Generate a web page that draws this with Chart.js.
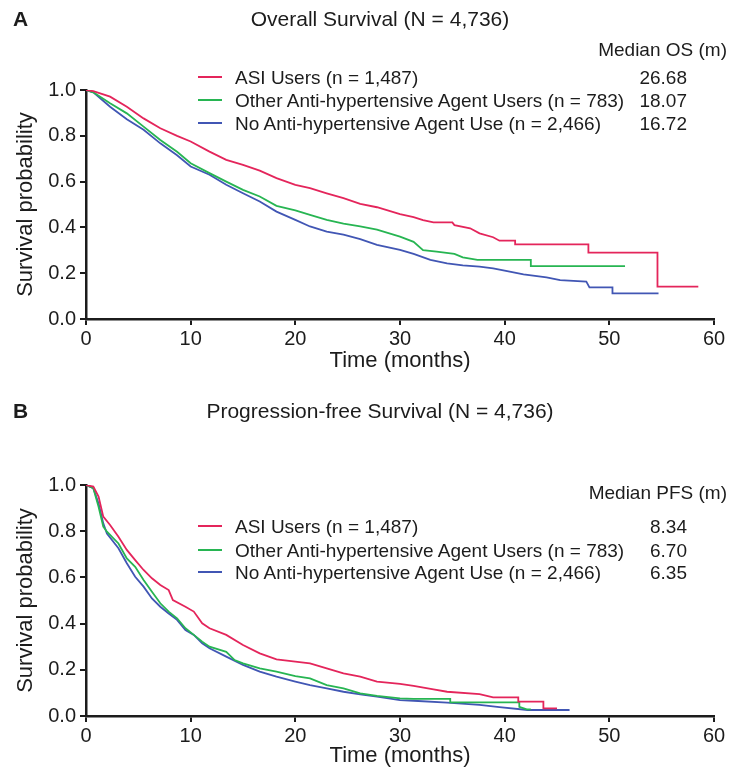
<!DOCTYPE html>
<html>
<head>
<meta charset="utf-8">
<script src="https://cdn.jsdelivr.net/npm/chart.js@4.4.1/dist/chart.umd.min.js"></script>
<style>
  body { margin: 0; background: #fff; }
  #page { position: relative; width: 733px; height: 775px; font-family: 'Liberation Sans', Arial, sans-serif; color: #1c1c1c; }
  canvas { position: absolute; left: 0; }
  .lbl { position: absolute; white-space: nowrap; line-height: 1; transform: translateY(-50%); }
  .key { position: absolute; height: 2px; width: 24px; left: 198px; }
</style>
</head>
<body>
<div id="page">
  <canvas id="osChart" width="733" height="385" style="top:0"></canvas>
  <canvas id="pfsChart" width="733" height="390" style="top:385px"></canvas>
</div>
<script>
// groups
const groupLabels = ['ASI Users (n = 1,487)', 'Other Anti-hypertensive Agent Users (n = 783)', 'No Anti-hypertensive Agent Use (n = 2,466)'];
const groupColors = ['#e4255b', '#27b552', '#4156b4'];
const osMedians = ['26.68', '18.07', '16.72'];
const pfsMedians = ['8.34', '6.70', '6.35'];

const xTicks = [0, 10, 20, 30, 40, 50, 60];
const yTicks = [0, 0.2, 0.4, 0.6, 0.8, 1.0];

// overall survival
const osTimeAsi = [0, 0.7, 2.3, 3.9, 5.5, 7.1, 8.7, 10, 11.8, 13.4, 15, 16.6, 18.2, 20, 21.4, 23, 24.6, 26.2, 27.8, 30, 31.3, 32.2, 33.2, 35.0, 35.2, 36.7, 37.6, 38.9, 39.5, 41.0, 41.0, 48.0, 48.0, 54.6, 54.6, 58.5];
const osSurvAsi = [1, 0.995, 0.971, 0.927, 0.876, 0.833, 0.80, 0.775, 0.731, 0.695, 0.673, 0.648, 0.615, 0.586, 0.571, 0.549, 0.528, 0.503, 0.488, 0.458, 0.445, 0.432, 0.422, 0.422, 0.41, 0.396, 0.374, 0.357, 0.342, 0.342, 0.326, 0.326, 0.29, 0.29, 0.141, 0.141];
const osTimeOther = [0, 0.7, 2.3, 3.9, 5.5, 7.1, 8.7, 10, 11.8, 13.4, 15, 16.6, 18.2, 20, 21.4, 23, 24.6, 26.2, 27.8, 30, 31.3, 32.2, 33.5, 35.2, 36, 37.4, 42.5, 42.5, 51.5];
const osSurvOther = [1, 0.99, 0.942, 0.898, 0.84, 0.782, 0.73, 0.68, 0.637, 0.6, 0.564, 0.535, 0.494, 0.474, 0.455, 0.433, 0.416, 0.404, 0.39, 0.36, 0.337, 0.301, 0.294, 0.284, 0.269, 0.258, 0.258, 0.231, 0.231];
const osTimeNone = [0, 0.7, 2.3, 3.9, 5.5, 7.1, 8.7, 10, 11.8, 13.4, 15, 16.6, 18.2, 20, 21.4, 23, 24.6, 26.2, 27.8, 30, 31.3, 32.9, 34.5, 36, 37.6, 38.9, 40, 41.8, 44.0, 45.3, 47.8, 48.1, 50.3, 50.3, 54.7];
const osSurvNone = [1, 0.99, 0.927, 0.872, 0.826, 0.767, 0.715, 0.666, 0.63, 0.586, 0.549, 0.513, 0.469, 0.433, 0.404, 0.382, 0.368, 0.349, 0.324, 0.302, 0.284, 0.258, 0.243, 0.234, 0.229, 0.221, 0.211, 0.195, 0.182, 0.17, 0.163, 0.138, 0.138, 0.112, 0.112];

// progression-free survival, panel B
const pfsTimeAsi = [0, 0.7, 1.2, 1.65, 2.3, 3.1, 3.9, 4.7, 5.5, 6.3, 7.1, 7.9, 8.3, 9.5, 10.3, 11.1, 11.8, 13.4, 15, 16.6, 18.2, 20, 21.4, 23, 24.6, 26.2, 27.8, 30, 31.3, 33.2, 34.5, 37.6, 38.9, 41.3, 41.3, 43.7, 43.7, 45.0];
const pfsSurvAsi = [1, 0.993, 0.95, 0.863, 0.827, 0.776, 0.719, 0.675, 0.632, 0.596, 0.567, 0.545, 0.502, 0.473, 0.452, 0.401, 0.38, 0.351, 0.307, 0.271, 0.245, 0.235, 0.228, 0.206, 0.185, 0.17, 0.149, 0.139, 0.13, 0.115, 0.105, 0.095, 0.081, 0.081, 0.062, 0.062, 0.033, 0.033];
const pfsTimeOther = [0, 0.7, 1.2, 1.65, 2.0, 3.1, 3.9, 4.7, 5.5, 6.3, 7.1, 7.9, 8.7, 9.5, 10.3, 11.1, 11.8, 13.4, 14.2, 15, 16.6, 18.2, 20, 21.4, 23, 24.6, 26.2, 27.8, 30, 31.3, 34.8, 34.8, 41.4, 41.4, 42.1, 42.5];
const pfsSurvOther = [1, 0.986, 0.906, 0.82, 0.798, 0.747, 0.682, 0.646, 0.589, 0.538, 0.488, 0.452, 0.423, 0.38, 0.351, 0.322, 0.30, 0.278, 0.242, 0.228, 0.206, 0.192, 0.173, 0.163, 0.134, 0.12, 0.098, 0.087, 0.076, 0.074, 0.074, 0.059, 0.059, 0.04, 0.029, 0.029];
const pfsTimeNone = [0, 0.7, 1.2, 1.65, 2.0, 3.1, 3.9, 4.7, 5.5, 6.3, 7.1, 7.9, 8.7, 9.5, 10.3, 11.1, 11.8, 13.4, 15, 16.6, 18.2, 20, 21.4, 23, 24.6, 26.2, 27.8, 30, 31.3, 34.5, 37.6, 39.5, 42.2, 46.2];
const pfsSurvNone = [1, 0.986, 0.92, 0.834, 0.79, 0.726, 0.661, 0.603, 0.56, 0.509, 0.473, 0.444, 0.416, 0.372, 0.351, 0.315, 0.293, 0.257, 0.221, 0.192, 0.17, 0.149, 0.134, 0.12, 0.105, 0.094, 0.084, 0.069, 0.066, 0.058, 0.048, 0.038, 0.026, 0.026];

const fontFam = "'Liberation Sans', Arial, sans-serif";
const page = document.getElementById('page');

function addLabel(text, css) {
  const d = document.createElement('div');
  d.className = 'lbl';
  d.textContent = text;
  Object.assign(d.style, css);
  page.appendChild(d);
  return d;
}

function toPoints(times, surv) {
  return times.map((t, i) => ({ x: t, y: surv[i] }));
}

function drawChart(id, series, topPad, xHeight, titlePad) {
  const ctx = document.getElementById(id).getContext('2d');
  return new Chart(ctx, {
    type: 'line',
    data: {
      datasets: series.map((s, i) => ({
        label: groupLabels[i],
        data: toPoints(s[0], s[1]),
        borderColor: groupColors[i],
        borderWidth: 1.8,
        pointRadius: 0,
        tension: 0,
        fill: false
      }))
    },
    options: {
      responsive: false,
      animation: false,
      layout: { padding: { top: topPad, right: 19, left: 0, bottom: 0 } },
      plugins: { legend: { display: false }, tooltip: { enabled: false } },
      scales: {
        x: {
          type: 'linear', min: 0, max: 60,
          afterBuildTicks: axis => { axis.ticks = xTicks.map(v => ({ value: v })); },
          afterFit: axis => { axis.height = xHeight; },
          ticks: { color: '#1c1c1c', font: { family: fontFam, size: 20 }, padding: 2, maxRotation: 0 },
          grid: { drawOnChartArea: false, drawTicks: true, tickLength: 6, color: '#1c1c1c', lineWidth: 2 },
          border: { color: '#1c1c1c', width: 2.5 },
          title: { display: true, text: 'Time (months)', color: '#1c1c1c', font: { family: fontFam, size: 22 }, padding: { top: 0, bottom: titlePad } }
        },
        y: {
          min: 0, max: 1,
          afterBuildTicks: axis => { axis.ticks = yTicks.map(v => ({ value: v })); },
          afterFit: axis => { axis.width = 86; },
          ticks: { color: '#1c1c1c', font: { family: fontFam, size: 20 }, padding: 4, callback: v => v.toFixed(1) },
          grid: { drawOnChartArea: false, drawTicks: true, tickLength: 6, color: '#1c1c1c', lineWidth: 2 },
          border: { color: '#1c1c1c', width: 2.5 },
          title: { display: true, text: 'Survival probability', color: '#1c1c1c', font: { family: fontFam, size: 22 }, padding: { top: 13, bottom: 0 } }
        }
      }
    }
  });
}

function panelText(letter, title, titleY, medianHead, headY, rowYs, medians) {
  addLabel(letter, { left: '13px', top: titleY + 'px', fontSize: '21px', fontWeight: 'bold' });
  const t = addLabel(title, { left: '380px', top: titleY + 'px', fontSize: '21px' });
  t.style.transform = 'translate(-50%, -50%)';
  addLabel(medianHead, { right: '6px', top: headY + 'px', fontSize: '19px' });
  rowYs.forEach((y, i) => {
    const k = document.createElement('div');
    k.className = 'key';
    k.style.top = (y - 1) + 'px';
    k.style.background = groupColors[i];
    page.appendChild(k);
    addLabel(groupLabels[i], { left: '235px', top: y + 'px', fontSize: '19px' });
    addLabel(medians[i], { right: '46px', top: y + 'px', fontSize: '19px' });
  });
}

drawChart('osChart', [[osTimeAsi, osSurvAsi], [osTimeOther, osSurvOther], [osTimeNone, osSurvNone]], 90, 66, 11);
drawChart('pfsChart', [[pfsTimeAsi, pfsSurvAsi], [pfsTimeOther, pfsSurvOther], [pfsTimeNone, pfsSurvNone]], 100, 59, 6);

panelText('A', 'Overall Survival (N = 4,736)', 18, 'Median OS (m)', 49, [77, 100, 123], osMedians);
panelText('B', 'Progression-free Survival (N = 4,736)', 410, 'Median PFS (m)', 492, [526, 550, 572], pfsMedians);
</script>
</body>
</html>
